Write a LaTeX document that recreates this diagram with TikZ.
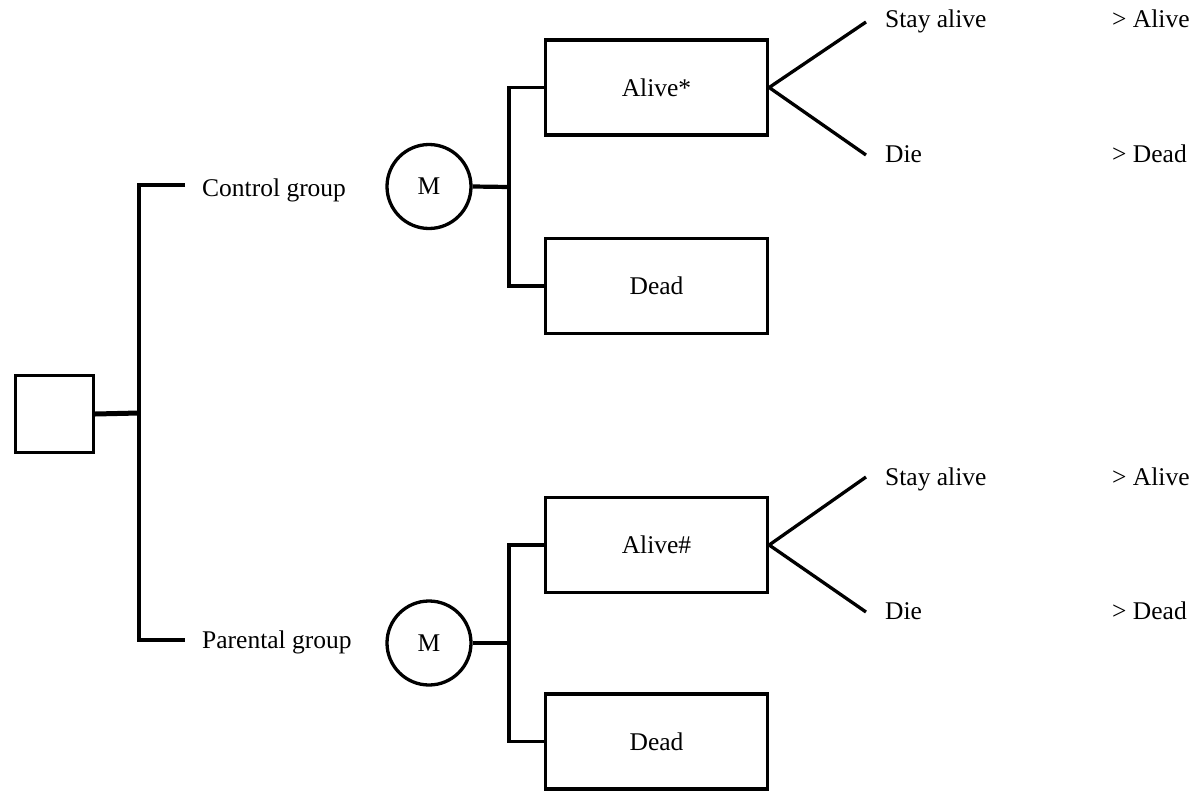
\documentclass[tikz,border=0pt]{standalone}
\usepackage{fontspec}
\setmainfont{Liberation Serif}
\begin{document}
\begin{tikzpicture}[x=1pt,y=-1pt,
  every node/.style={font=\fontsize{25.5}{30}\selectfont},
  statebox/.style={draw, line width=3.3pt, minimum width=222pt, minimum height=95pt, inner sep=0pt},
  decbox/.style={draw, line width=3.3pt, minimum width=78pt, minimum height=77pt, inner sep=0pt},
  markov/.style={draw, circle, line width=3.3pt, minimum size=84pt, inner sep=0pt},
  lbl/.style={anchor=base west, inner sep=0pt},
  conn/.style={line width=3.3pt, line join=miter},
  thickconn/.style={line width=5pt},
  medconn/.style={line width=4.2pt}
]
\useasboundingbox (0,0) rectangle (1196,792);

% decision node and spine
\node[decbox] (dec) at (54.5,414) {};
\coordinate (spMid) at (139,413);
\coordinate (spTop) at (139,185);
\coordinate (spBot) at (139,640);
\coordinate (ctlEnd) at (185,185);
\coordinate (parEnd) at (185,640);
\draw[thickconn] (dec.east) -- (spMid);
\draw[conn] (ctlEnd) -- (spTop) -- (spBot) -- (parEnd);
\node[lbl] (ctl) at (202,196) {Control group};
\node[lbl] (par) at (202,648) {Parental group};

% upper Markov node
\node[markov] (m1) at (429,186.5) {M};
\coordinate (v1mid) at (509,187);
\coordinate (v1top) at (509,87.5);
\coordinate (v1bot) at (509,286);
\draw[medconn] (m1.east) -- (v1mid);
\node[statebox] (alive1) at (656.5,87.5) {Alive*};
\node[statebox] (dead1) at (656.5,286) {Dead};
\draw[conn] (alive1.west) -- (v1top) -- (v1bot) -- (dead1.west);
\coordinate (s1) at (866,22);
\coordinate (d1) at (866,155);
\draw[conn] (s1) -- (alive1.east) -- (d1);
\node[lbl] (stay1) at (885,28) {Stay alive};
\node[lbl] (die1) at (885,162) {Die};
\node[lbl] (toA1) at (1112,28) {\textgreater{} Alive};
\node[lbl] (toD1) at (1112,162) {\textgreater{} Dead};

% lower Markov node
\node[markov] (m2) at (429,643) {M};
\coordinate (v2mid) at (509,643);
\coordinate (v2top) at (509,545);
\coordinate (v2bot) at (509,741.5);
\draw[medconn] (m2.east) -- (v2mid);
\node[statebox] (alive2) at (656.5,545) {Alive\#};
\node[statebox] (dead2) at (656.5,741.5) {Dead};
\draw[conn] (alive2.west) -- (v2top) -- (v2bot) -- (dead2.west);
\coordinate (s2) at (866,477);
\coordinate (d2) at (866,612);
\draw[conn] (s2) -- (alive2.east) -- (d2);
\node[lbl] (stay2) at (885,485) {Stay alive};
\node[lbl] (die2) at (885,619) {Die};
\node[lbl] (toA2) at (1112,485) {\textgreater{} Alive};
\node[lbl] (toD2) at (1112,619) {\textgreater{} Dead};
\end{tikzpicture}
\end{document}
